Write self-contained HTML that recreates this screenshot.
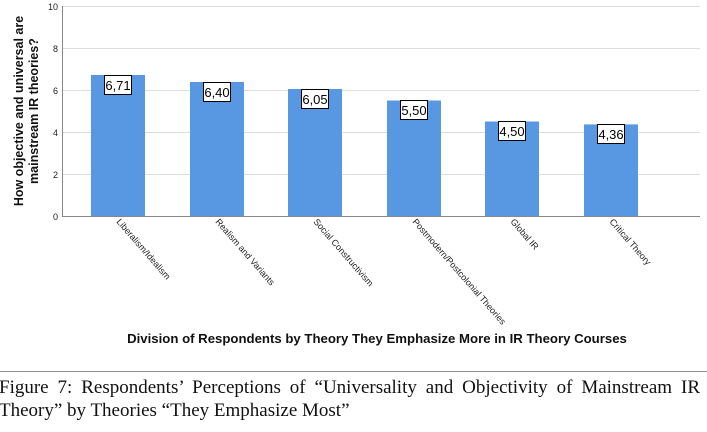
<!DOCTYPE html>
<html><head><meta charset="utf-8"><style>
body{margin:0;width:707px;height:432px;background:#fff;overflow:hidden;position:relative;font-family:"Liberation Sans",sans-serif}
.cap{position:absolute;left:-1px;width:701px;font-family:"Liberation Serif",serif;font-size:19px;color:#111;line-height:23px;white-space:nowrap}
</style></head><body>
<svg width="707" height="372" style="position:absolute;left:0;top:0" font-family="Liberation Sans, sans-serif">
<g stroke="#ddd" stroke-width="1">
<line x1="62" x2="700" y1="48.5" y2="48.5"/><line x1="62" x2="700" y1="90.5" y2="90.5"/>
<line x1="62" x2="700" y1="132.5" y2="132.5"/><line x1="62" x2="700" y1="174.5" y2="174.5"/>
<line x1="62" x2="700" y1="6.5" y2="6.5"/>
</g>
<g fill="#5898e2">
<rect x="91" y="75" width="54" height="141"/>
<rect x="190" y="82" width="54" height="134"/>
<rect x="288" y="89" width="54" height="127"/>
<rect x="387" y="100.5" width="54" height="115.5"/>
<rect x="485" y="121.5" width="54" height="94.5"/>
<rect x="584" y="124.4" width="54" height="91.6"/>
</g>
<line x1="62.5" x2="62.5" y1="6" y2="216" stroke="#888"/>
<line x1="62" x2="700" y1="216.5" y2="216.5" stroke="#888"/>
<g font-size="9" fill="#222" text-anchor="end">
<text x="58" y="10">10</text><text x="58" y="52">8</text><text x="58" y="94">6</text>
<text x="58" y="136">4</text><text x="58" y="178">2</text><text x="58" y="220">0</text>
</g>
<g font-size="13" text-anchor="middle">
<rect x="104.5" y="75.5" width="27" height="19" fill="#fff" stroke="#000"/><text x="118" y="90">6,71</text>
<rect x="203.5" y="82.5" width="27" height="19" fill="#fff" stroke="#000"/><text x="217" y="97">6,40</text>
<rect x="301.5" y="89.5" width="27" height="19" fill="#fff" stroke="#000"/><text x="315" y="104">6,05</text>
<rect x="400.5" y="100.5" width="27" height="19" fill="#fff" stroke="#000"/><text x="414" y="115">5,50</text>
<rect x="498.5" y="121.5" width="27" height="19" fill="#fff" stroke="#000"/><text x="512" y="136">4,50</text>
<rect x="597.5" y="124.5" width="27" height="19" fill="#fff" stroke="#000"/><text x="611" y="139">4,36</text>
</g>
<g font-size="9" fill="#222">
<text transform="translate(116,222) rotate(49)">Liberalism/Idealism</text>
<text transform="translate(215,222) rotate(49)">Realism and Variants</text>
<text transform="translate(313,222) rotate(49)">Social Constructivism</text>
<text transform="translate(412,222) rotate(49)">Postmodern/Postcolonial Theories</text>
<text transform="translate(510,222) rotate(49)">Global IR</text>
<text transform="translate(609,222) rotate(49)">Critical Theory</text>
</g>
<g font-size="12.5" font-weight="bold" text-anchor="middle" fill="#111">
<text transform="translate(23,111) rotate(-90)">How objective and universal are</text>
<text transform="translate(38,111) rotate(-90)">mainstream IR theories?</text>
<text x="377" y="343" font-size="13.2">Division of Respondents by Theory They Emphasize More in IR Theory Courses</text>
</g>
<line x1="0" x2="707" y1="372" y2="372" stroke="#222"/>
</svg>
<div class="cap" style="top:376px;text-align:justify;text-align-last:justify;white-space:normal">Figure 7: Respondents’ Perceptions of “Universality and Objectivity of Mainstream IR</div>
<div class="cap" style="top:399px">Theory” by Theories “They Emphasize Most”</div>
</body></html>
